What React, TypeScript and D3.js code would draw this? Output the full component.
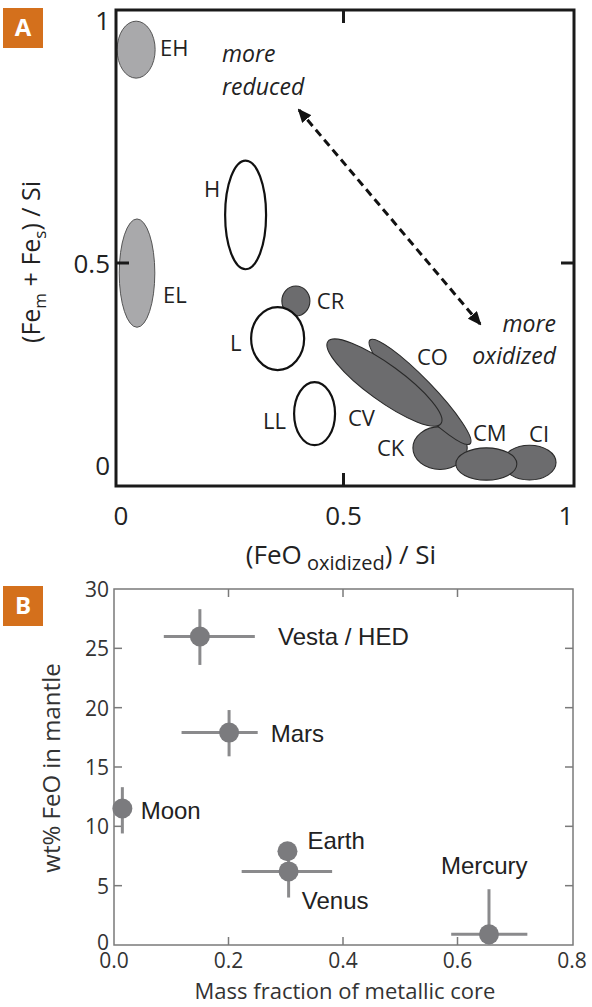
import React from "react";
import * as d3 from "d3";

const W = 592;
const H = 1007;

// ---------- Panel A data (schematic meteorite group fields) ----------
const groupNames = ["EH", "EL", "H", "CR", "L", "LL", "CK", "CI", "CM", "CO", "CV"];
const groupFeO = [0.034, 0.036, 0.28, 0.393, 0.352, 0.435, 0.717, 0.918, 0.821, 0.672, 0.592];
const groupFeMetal = [0.939, 0.475, 0.599, 0.406, 0.313, 0.127, 0.042, 0.006, 0.0025, 0.181, 0.204];
const groupSpreadX = [0.0427, 0.04, 0.046, 0.0315, 0.0596, 0.046, 0.061, 0.0596, 0.0685, 0.162, 0.157];
const groupSpreadY = [0.0586, 0.124, 0.113, 0.037, 0.078, 0.078, 0.053, 0.043, 0.04, 0.032, 0.0446];
const groupTilt = [0, 0, 0, 0, 0, 0, 0, 0, 0, 46, 36];
const groupClass = ["E", "E", "O", "C", "O", "O", "C", "C", "C", "C", "C"];
const groupLabelX = [0.0876, 0.0944, 0.1865, 0.44, 0.245, 0.319, 0.575, 0.917, 0.791, 0.665, 0.51];
const groupLabelY = [0.944, 0.423, 0.654, 0.408, 0.304, 0.111, 0.045, 0.079, 0.082, 0.27, 0.119];
const ticksA = [0, 0.5, 1];
const trendArrow = [
  [0.4, 0.815],
  [0.807, 0.349],
];

// ---------- Panel B data ----------
const bodies = ["Vesta / HED", "Mars", "Moon", "Earth", "Venus", "Mercury"];
const coreFraction = [0.15, 0.201, 0.0146, 0.303, 0.305, 0.655];
const mantleFeO = [26.0, 17.9, 11.5, 7.9, 6.2, 0.9];
const coreLo = [0.087, 0.118, null, null, 0.223, 0.589];
const coreHi = [0.246, 0.251, null, null, 0.381, 0.722];
const feoLo = [23.6, 15.9, 9.4, null, 4.0, 0];
const feoHi = [28.3, 19.8, 13.3, null, 8.0, 4.7];
const bodyLabelX = [0.2865, 0.2737, 0.0466, 0.338, 0.328, 0.571];
const bodyLabelY = [26.0, 17.8, 11.37, 8.79, 3.79, 6.74];
const ticksBX = [0, 0.2, 0.4, 0.6, 0.8];
const ticksBY = [0, 5, 10, 15, 20, 25, 30];

const fontA = "'Open Sans', 'DejaVu Sans', sans-serif";
const fontLab = "'Liberation Sans', Arial, sans-serif";
const orange = "#d4701c";

const fillFor: Record<string, string> = { E: "#a9a9ab", O: "#ffffff", C: "#6c6c6e" };
const strokeFor: Record<string, string> = { E: "#555", O: "#111", C: "#2a2a2a" };
const strokeWFor: Record<string, number> = { E: 1, O: 2.2, C: 1.1 };

export default function App() {
  // Panel A scales
  const xA = d3.scaleLinear().domain([0, 1]).range([121, 566]);
  const yA = d3.scaleLinear().domain([0, 0.5, 1]).range([465, 263, 20]);
  const boxA = { x0: 116, x1: 574, y0: 10, y1: 486 };

  // Panel B scales
  const xB = d3.scaleLinear().domain([0, 0.8]).range([114, 572]);
  const yB = d3.scaleLinear().domain([0, 30]).range([945, 589]);
  const boxB = { x0: xB(0), x1: xB(0.8) + 1, y0: yB(30), y1: yB(0) };

  const arrowLine = d3.line<number[]>().x((d) => xA(d[0])).y((d) => yA(d[1]));

  return (
    <svg
      width={W}
      height={H}
      viewBox={`0 0 ${W} ${H}`}
      style={{ position: "absolute", left: 0, top: 0, background: "#fff" }}
    >
      <defs>
        <marker
          id="ah"
          viewBox="0 0 14 12"
          refX="12"
          refY="6"
          markerWidth="14"
          markerHeight="12"
          markerUnits="userSpaceOnUse"
          orient="auto-start-reverse"
        >
          <path d="M0,0 L14,6 L0,12 Z" fill="#111" />
        </marker>
      </defs>

      {/* ================= Panel A ================= */}
      <rect x={3} y={8} width={40} height={40} fill={orange} />
      <text x={23} y={36} textAnchor="middle" fontFamily={fontA} fontWeight={700} fontSize={24} fill="#fff">
        A
      </text>

      {/* ellipses */}
      {groupNames.map((n, i) => {
        const cx = xA(groupFeO[i]);
        const cy = yA(groupFeMetal[i]);
        const rx = Math.abs(xA(groupFeO[i] + groupSpreadX[i]) - cx);
        const ry = Math.abs(yA(groupFeMetal[i] - groupSpreadY[i]) - yA(groupFeMetal[i] + groupSpreadY[i])) / 2;
        const c = groupClass[i];
        return (
          <ellipse
            key={n}
            cx={cx}
            cy={cy}
            rx={rx}
            ry={ry}
            transform={`rotate(${groupTilt[i]} ${cx} ${cy})`}
            fill={fillFor[c]}
            stroke={strokeFor[c]}
            strokeWidth={strokeWFor[c]}
          />
        );
      })}

      {groupNames.map((n, i) => (
        <text
          key={"l" + n}
          x={xA(groupLabelX[i])}
          y={yA(groupLabelY[i])}
          dominantBaseline="central"
          fontFamily={fontA}
          fontSize={22}
          fill="#222"
        >
          {n}
        </text>
      ))}

      {/* trend arrow */}
      <path
        d={arrowLine(trendArrow) || ""}
        fill="none"
        stroke="#111"
        strokeWidth={3}
        strokeDasharray="8 5"
        markerStart="url(#ah)"
        markerEnd="url(#ah)"
      />
      <text fontFamily={fontA} fontStyle="italic" fontSize={23} fill="#222">
        <tspan x={222} y={62}>more</tspan>
        <tspan x={222} y={95}>reduced</tspan>
      </text>
      <text fontFamily={fontA} fontStyle="italic" fontSize={23} fill="#222" textAnchor="end">
        <tspan x={556} y={332}>more</tspan>
        <tspan x={556} y={364}>oxidized</tspan>
      </text>

      {/* frame & ticks */}
      <rect
        x={boxA.x0}
        y={boxA.y0}
        width={boxA.x1 - boxA.x0}
        height={boxA.y1 - boxA.y0}
        fill="none"
        stroke="#1a1a1a"
        strokeWidth={3}
      />
      <line x1={xA(0.5)} x2={xA(0.5)} y1={boxA.y0} y2={boxA.y0 + 13} stroke="#1a1a1a" strokeWidth={3} />
      <line x1={xA(0.5)} x2={xA(0.5)} y1={boxA.y1} y2={boxA.y1 - 13} stroke="#1a1a1a" strokeWidth={3} />
      <line x1={boxA.x0} x2={boxA.x0 + 13} y1={yA(0.5)} y2={yA(0.5)} stroke="#1a1a1a" strokeWidth={3} />
      <line x1={boxA.x1} x2={boxA.x1 - 13} y1={yA(0.5)} y2={yA(0.5)} stroke="#1a1a1a" strokeWidth={3} />

      {ticksA.map((t) => (
        <text
          key={"xa" + t}
          x={xA(t)}
          y={515}
          textAnchor="middle"
          dominantBaseline="central"
          fontFamily={fontA}
          fontSize={26}
          fill="#222"
        >
          {d3.format("")(t)}
        </text>
      ))}
      {ticksA.map((t) => (
        <text
          key={"ya" + t}
          x={110}
          y={yA(t)}
          textAnchor="end"
          dominantBaseline="central"
          fontFamily={fontA}
          fontSize={26}
          fill="#222"
        >
          {d3.format("")(t)}
        </text>
      ))}

      <text x={341} y={564} textAnchor="middle" fontFamily={fontA} fontSize={26} fill="#222">
        (FeO
        <tspan fontSize={20} dy={6}> oxidized</tspan>
        <tspan dy={-6}>) / Si</tspan>
      </text>
      <text
        transform="translate(40,262) rotate(-90)"
        textAnchor="middle"
        fontFamily={fontA}
        fontSize={25}
        fill="#222"
      >
        (Fe
        <tspan fontSize={17} dy={6}>m</tspan>
        <tspan dy={-6}> + Fe</tspan>
        <tspan fontSize={17} dy={6}>s</tspan>
        <tspan dy={-6}>) / Si</tspan>
      </text>

      {/* ================= Panel B ================= */}
      <rect x={3} y={586} width={40} height={40} fill={orange} />
      <text x={23} y={614} textAnchor="middle" fontFamily={fontA} fontWeight={700} fontSize={24} fill="#fff">
        B
      </text>

      <rect
        x={boxB.x0}
        y={boxB.y0}
        width={boxB.x1 - boxB.x0}
        height={boxB.y1 - boxB.y0}
        fill="none"
        stroke="#7a7a7a"
        strokeWidth={1.5}
      />
      {ticksBX.slice(1, -1).map((t) => (
        <g key={"bx" + t}>
          <line x1={xB(t)} x2={xB(t)} y1={boxB.y1} y2={boxB.y1 - 8} stroke="#7a7a7a" strokeWidth={1.5} />
          <line x1={xB(t)} x2={xB(t)} y1={boxB.y0} y2={boxB.y0 + 8} stroke="#7a7a7a" strokeWidth={1.5} />
        </g>
      ))}
      {ticksBY.slice(1, -1).map((t) => (
        <g key={"by" + t}>
          <line x1={boxB.x0} x2={boxB.x0 + 8} y1={yB(t)} y2={yB(t)} stroke="#7a7a7a" strokeWidth={1.5} />
          <line x1={boxB.x1} x2={boxB.x1 - 8} y1={yB(t)} y2={yB(t)} stroke="#7a7a7a" strokeWidth={1.5} />
        </g>
      ))}
      {ticksBX.map((t) => (
        <text
          key={"bxl" + t}
          x={xB(t)}
          y={960}
          textAnchor="middle"
          dominantBaseline="central"
          fontFamily={fontA}
          fontSize={21}
          fill="#333"
        >
          {d3.format(".1f")(t)}
        </text>
      ))}
      {ticksBY.map((t) => (
        <text
          key={"byl" + t}
          x={109}
          y={yB(t) - (t === 0 ? 3 : 0)}
          textAnchor="end"
          dominantBaseline="central"
          fontFamily={fontA}
          fontSize={21}
          fill="#333"
        >
          {t}
        </text>
      ))}

      {/* error bars */}
      {bodies.map((b, i) => (
        <g key={"e" + b} stroke="#8a8a8c" strokeWidth={3}>
          {coreLo[i] !== null && (
            <line x1={xB(coreLo[i] as number)} x2={xB(coreHi[i] as number)} y1={yB(mantleFeO[i])} y2={yB(mantleFeO[i])} />
          )}
          {feoLo[i] !== null && (
            <line x1={xB(coreFraction[i])} x2={xB(coreFraction[i])} y1={yB(feoLo[i] as number)} y2={yB(feoHi[i] as number)} />
          )}
        </g>
      ))}
      {bodies.map((b, i) => (
        <circle key={"p" + b} cx={xB(coreFraction[i])} cy={yB(mantleFeO[i])} r={10} fill="#7b7b7e" />
      ))}
      {bodies.map((b, i) => (
        <text
          key={"t" + b}
          x={xB(bodyLabelX[i])}
          y={yB(bodyLabelY[i])}
          dominantBaseline="central"
          fontFamily={fontLab}
          fontSize={24}
          fill="#222"
        >
          {b}
        </text>
      ))}

      <text x={345} y={999} textAnchor="middle" fontFamily={fontA} fontSize={22} fill="#333">
        Mass fraction of metallic core
      </text>
      <text
        transform="translate(50,768) rotate(-90)"
        textAnchor="middle"
        dominantBaseline="central"
        fontFamily={fontA}
        fontSize={24}
        fill="#333"
      >
        wt% FeO in mantle
      </text>
    </svg>
  );
}
